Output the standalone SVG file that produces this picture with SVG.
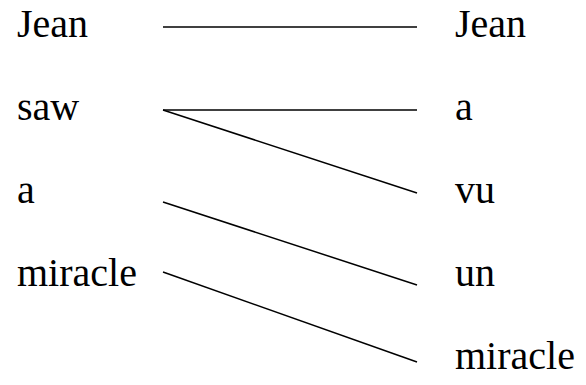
<svg xmlns="http://www.w3.org/2000/svg" width="586" height="385" viewBox="0 0 586 385">
<style>
text{font-family:"Liberation Serif","Times New Roman",serif;font-size:40px;fill:#000}
line{stroke:#000;stroke-width:1.5}
</style>
<rect width="586" height="385" fill="#fff"/>
<g id="src-jean"><text x="17" y="37">Jean</text></g>
<g id="src-saw"><text x="17" y="120">saw</text></g>
<g id="src-a"><text x="17" y="203">a</text></g>
<g id="src-miracle"><text x="17" y="286">miracle</text></g>
<g id="tgt-jean"><text x="455" y="37">Jean</text></g>
<g id="tgt-a"><text x="455" y="120">a</text></g>
<g id="tgt-vu"><text x="455" y="203">vu</text></g>
<g id="tgt-un"><text x="455" y="286">un</text></g>
<g id="tgt-miracle"><text x="455" y="369">miracle</text></g>
<g id="connectors">
<line x1="163" y1="27" x2="417" y2="27"/>
<line x1="163" y1="110" x2="417" y2="110"/>
<line x1="163" y1="110" x2="417" y2="193"/>
<line x1="163" y1="202" x2="417" y2="285"/>
<line x1="163" y1="272" x2="417" y2="362"/>
</g>
</svg>
